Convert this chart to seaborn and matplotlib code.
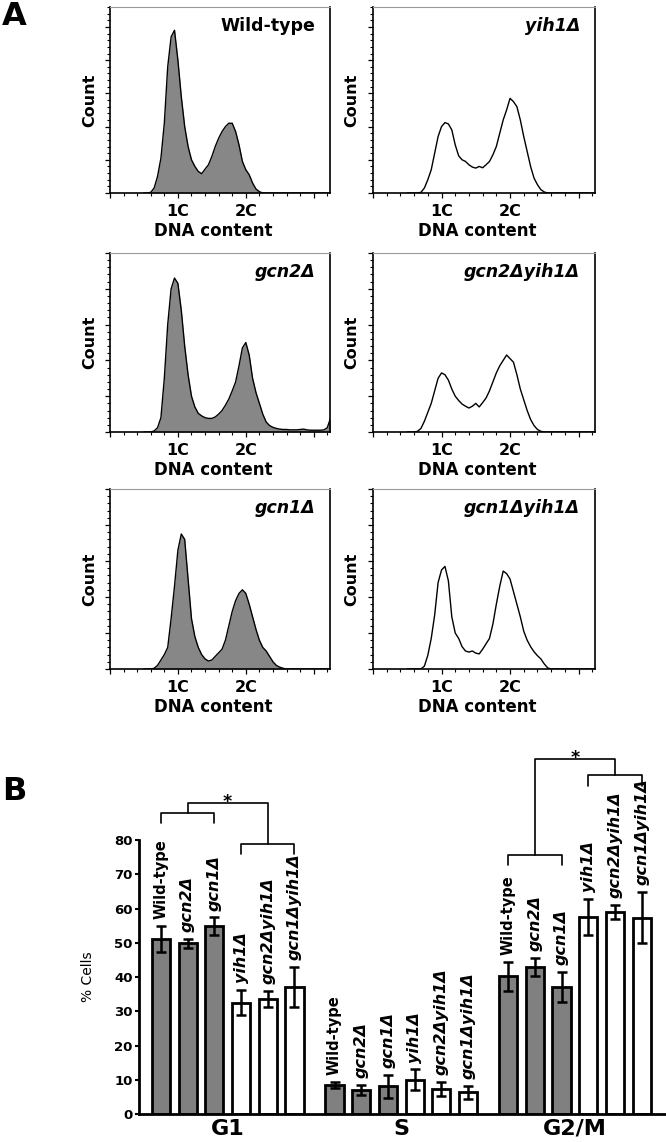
import numpy as np
import pandas as pd
import matplotlib
matplotlib.use("Agg")
import matplotlib.pyplot as plt
from matplotlib.ticker import MultipleLocator
import seaborn as sns

# ---- Panel A: DNA content histograms (channel 1 = 1C, 2 = 2C) ----
dna = np.round(np.arange(0.50, 3.26, 0.05), 2)

wt_counts = [0, 0, 2, 15, 50, 105, 210, 380, 470, 490,
             400, 290, 200, 140, 100, 80, 65, 58, 72, 85,
             110, 140, 165, 185, 200, 210, 210, 185, 145, 95,
             70, 55, 30, 12, 4, 0, 0, 0, 0, 0,
             0, 0, 0, 0, 0, 0, 0, 0, 0, 0,
             0, 0, 0, 0, 0, 0]
yih1_counts = [0, 0, 0, 0, 2, 15, 40, 70, 120, 170,
               200, 212, 208, 190, 145, 112, 100, 95, 85, 78,
               75, 80, 76, 85, 95, 115, 140, 180, 220, 250,
               285, 275, 260, 220, 170, 125, 80, 45, 25, 10,
               3, 0, 0, 0, 0, 0, 0, 0, 0, 0,
               0, 0, 0, 0, 0, 0]
gcn2_counts = [0, 0, 0, 3, 12, 40, 150, 300, 400, 430,
               415, 340, 240, 160, 100, 70, 52, 45, 40, 38,
               38, 42, 50, 60, 75, 92, 115, 140, 185, 235,
               250, 215, 150, 110, 80, 50, 28, 18, 13, 10,
               8, 7, 7, 6, 6, 6, 7, 8, 6, 5,
               5, 5, 5, 6, 12, 40]
gcn2yih1_counts = [0, 0, 0, 2, 10, 30, 55, 80, 115, 150,
                   165, 160, 145, 120, 100, 88, 78, 72, 67, 72,
                   80, 70, 82, 95, 115, 140, 165, 185, 200, 215,
                   205, 195, 160, 120, 90, 60, 35, 18, 7, 2,
                   0, 0, 0, 0, 0, 0, 0, 0, 0, 0,
                   0, 0, 0, 0, 0, 0]
gcn1_counts = [0, 0, 0, 2, 10, 25, 40, 60, 140, 230,
               330, 375, 360, 250, 140, 90, 60, 40, 28, 22,
               25, 35, 45, 55, 80, 120, 160, 190, 210, 220,
               210, 180, 145, 110, 80, 60, 50, 35, 20, 10,
               5, 2, 0, 0, 0, 0, 0, 0, 0, 0,
               0, 0, 0, 0, 0, 0]
gcn1yih1_counts = [0, 0, 0, 0, 0, 8, 38, 85, 150, 240,
                   275, 285, 245, 145, 100, 85, 62, 50, 47, 50,
                   44, 42, 55, 70, 85, 125, 180, 230, 272, 265,
                   250, 215, 180, 145, 105, 80, 62, 48, 37, 28,
                   14, 3, 0, 0, 0, 0, 0, 0, 0, 0,
                   0, 0, 0, 0, 0, 0]

hist_names = [["Wild-type", "yih1Δ"], ["gcn2Δ", "gcn2Δyih1Δ"], ["gcn1Δ", "gcn1Δyih1Δ"]]
hist_counts = [[wt_counts, yih1_counts], [gcn2_counts, gcn2yih1_counts],
               [gcn1_counts, gcn1yih1_counts]]

# ---- Panel B: % cells per phase ----
strains = ["Wild-type", "gcn2Δ", "gcn1Δ", "yih1Δ", "gcn2Δyih1Δ", "gcn1Δyih1Δ"]
phases = ["G1", "S", "G2/M"]
g1_mean = [51.0, 49.8, 54.8, 32.5, 33.6, 37.0]
g1_sd = [3.8, 1.3, 2.6, 3.7, 2.3, 5.8]
s_mean = [8.5, 7.0, 8.1, 10.0, 7.4, 6.3]
s_sd = [0.8, 1.4, 3.3, 3.0, 2.0, 1.8]
g2m_mean = [40.2, 43.0, 37.1, 57.6, 59.0, 57.3]
g2m_sd = [4.3, 2.6, 4.4, 5.3, 2.0, 7.5]

sns.set_theme(style="ticks")
plt.rcParams["font.family"] = ["DejaVu Sans"]
plt.rcParams["text.color"] = "black"
plt.rcParams["axes.labelcolor"] = "black"
plt.rcParams["xtick.color"] = "black"
plt.rcParams["ytick.color"] = "black"

W, H = 666, 1142
fig = plt.figure(figsize=(W / 100, H / 100), dpi=100)


def px_axes(x0, x1, y0, y1):
    return fig.add_axes([x0 / W, 1 - y1 / H, (x1 - x0) / W, (y1 - y0) / H])


col_px = [(110, 330), (373, 595)]
row_px = [(7, 193), (253, 432), (489, 669)]
row_ymax = [560, 500, 500]

for r in range(3):
    for c in range(2):
        x0, x1 = col_px[c]
        y0, y1 = row_px[r]
        ax = px_axes(x0, x1, y0, y1)
        counts = hist_counts[r][c]
        if c == 0:
            ax.fill_between(dna, counts, 0, color="#878787", lw=0)
        sns.lineplot(x=dna, y=counts, ax=ax, color="black", lw=1.0,
                     estimator=None, sort=False)
        ax.set_xlim(0, 3.24)
        ax.set_ylim(0, row_ymax[r])
        ax.set_xticks([0, 1, 2, 3])
        ax.set_xticklabels(["", "1C", "2C", ""], fontsize=11.5, fontweight="bold")
        ax.xaxis.set_minor_locator(MultipleLocator(0.2))
        ax.yaxis.set_major_locator(MultipleLocator(100))
        ax.yaxis.set_minor_locator(MultipleLocator(20))
        ax.tick_params(which="both", direction="out", top=False, right=False,
                       labelleft=False, colors="black")
        ax.tick_params(axis="x", which="major", length=3.6, width=0.9, pad=4)
        ax.tick_params(axis="x", which="minor", length=2.2, width=0.8)
        ax.tick_params(axis="y", which="major", length=3.6, width=0.9)
        ax.tick_params(axis="y", which="minor", length=2.2, width=0.8)
        for side in ["left", "bottom", "right"]:
            ax.spines[side].set_color("black")
            ax.spines[side].set_linewidth(1.2)
        ax.spines["top"].set_color("#9a9a9a")
        ax.spines["top"].set_linewidth(0.8)
        hpx = y1 - y0
        ax.set_ylabel("Count", fontsize=11.5, fontweight="bold")
        ax.yaxis.set_label_coords(-0.06, 0.5)
        ax.set_xlabel("DNA content", fontsize=12, fontweight="bold")
        ax.xaxis.set_label_coords(0.47, -29 / hpx)
        name = hist_names[r][c]
        ax.annotate(name, xy=(1, 1), xycoords="axes fraction", xytext=(-15, -24),
                    textcoords="offset pixels", ha="right", va="baseline",
                    fontsize=12.5, fontweight="bold",
                    fontstyle="italic" if "Δ" in name else "normal")

fig.text(2 / W, 1 - 25 / H, "A", fontsize=23, fontweight="bold", va="baseline")
fig.text(2 / W, 1 - 800 / H, "B", fontsize=23, fontweight="bold", va="baseline")

# ---- bar chart ----
df = pd.DataFrame({
    "phase": np.repeat(phases, len(strains)),
    "strain": strains * len(phases),
    "pct": g1_mean + s_mean + g2m_mean,
    "sd": g1_sd + s_sd + g2m_sd,
})
df["pos"] = [phases.index(p) * 6.5 + strains.index(s) for p, s in zip(df.phase, df.strain)]
df["group"] = ["yih1Δ" if "yih1" in s else "YIH1" for s in df.strain]

axb = px_axes(139, 666, 750, 1114)
sns.barplot(data=df, x="pos", y="pct", hue="group", native_scale=True, dodge=False,
            palette={"YIH1": "#808080", "yih1Δ": "white"}, edgecolor="black",
            linewidth=2, width=0.68, errorbar=None, legend=False, ax=axb, zorder=2)
axb.errorbar(df.pos, df.pct, yerr=df.sd, fmt="none", ecolor="black",
             elinewidth=1.8, capsize=3.5, capthick=1.8, zorder=3)

for _, row in df.iterrows():
    ital = "Δ" in row.strain
    axb.annotate(row.strain, xy=(row.pos, row.pct + row.sd), xytext=(0, 5),
                 textcoords="offset points", rotation=90, ha="center", va="bottom",
                 fontsize=11.5 if ital else 10.5, fontweight="bold",
                 fontstyle="italic" if ital else "normal")

centers = df.groupby("phase", sort=False).pos.mean()
axb.set_xticks(centers.values)
axb.set_xticklabels(centers.index, fontsize=16, fontweight="bold")
axb.tick_params(axis="x", length=0, pad=3.6)
axb.set_xlim(-0.82, 18.91)
axb.set_ylim(0, 106.3)
axb.set_yticks(range(0, 81, 10))
axb.tick_params(axis="y", direction="out", length=3, width=1.5, pad=1.5,
                labelsize=9.5, colors="black")
for lbl in axb.get_yticklabels():
    lbl.set_fontweight("bold")
axb.set_xlabel("")
axb.set_ylabel("% Cells", fontsize=10)
axb.yaxis.set_label_coords(-0.083, 0.376)
sns.despine(ax=axb)
axb.spines["left"].set_bounds(0, 80)
for side in ["left", "bottom"]:
    axb.spines[side].set_linewidth(2)
    axb.spines[side].set_color("black")


def bracket(ax, a, b, low, high):
    ax.plot([a, a, b, b], [low, high, high, low], color="black", lw=1.2,
            clip_on=False, zorder=4)


def significance(ax, left, right, top):
    for a, b, low, high in (left, right):
        bracket(ax, a, b, low, high)
    m1 = (left[0] + left[1]) / 2
    m2 = (right[0] + right[1]) / 2
    ax.plot([m1, m1, m2, m2], [left[3], top, top, right[3]], color="black",
            lw=1.2, clip_on=False, zorder=4)
    ax.text((m1 + m2) / 2, top - 1.0, "*", ha="center", va="baseline",
            fontsize=12.5, fontweight="bold")


significance(axb, (0, 2, 85.0, 87.9), (3, 5, 75.9, 78.8), 90.8)
significance(axb, (13, 15, 72.7, 75.6), (16, 18, 95.8, 99.0), 103.6)

fig.savefig("out.png", dpi=100)
